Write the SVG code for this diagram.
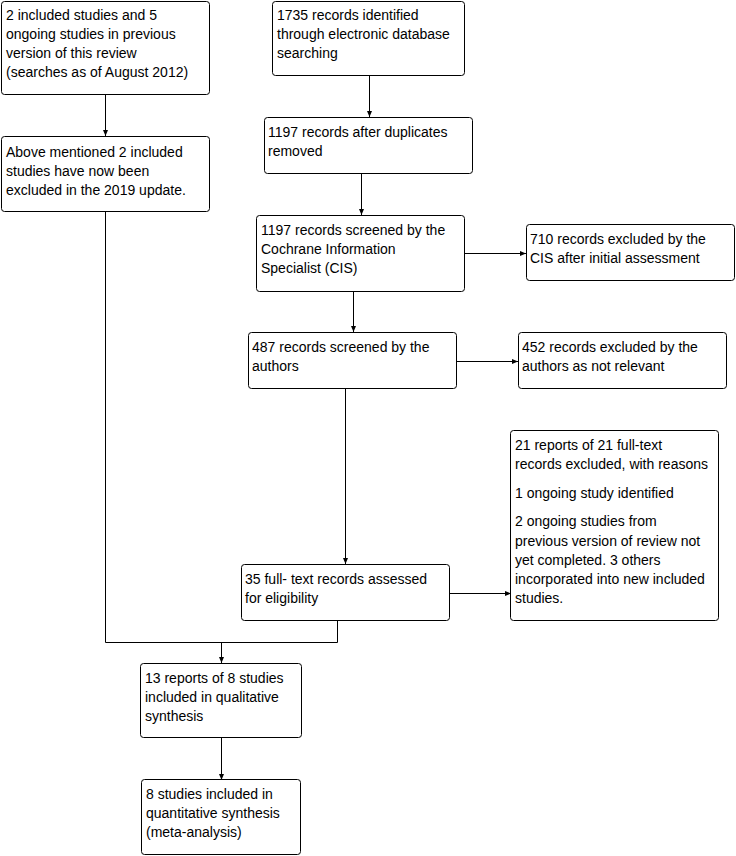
<svg xmlns="http://www.w3.org/2000/svg" width="736" height="856" viewBox="0 0 736 856">
<style>
.box{fill:#fff;stroke:#000;stroke-width:1}
text{font-family:"Liberation Sans",Arial,sans-serif;font-size:14px;fill:#000}
.ln{fill:none;stroke:#000;stroke-width:1}
</style>
<defs>
<marker id="ah" markerWidth="6" markerHeight="6" refX="6" refY="3" orient="auto" markerUnits="userSpaceOnUse">
<path d="M0,0.5 L6,3 L0,5.5 Z" fill="#000"/>
</marker>
</defs>
<rect width="736" height="856" fill="#fff"/>
<g id="connectors">
<line class="ln" x1="105.5" y1="95" x2="105.5" y2="136" marker-end="url(#ah)"/>
<line class="ln" x1="369.5" y1="76" x2="369.5" y2="117" marker-end="url(#ah)"/>
<line class="ln" x1="361.5" y1="174" x2="361.5" y2="215" marker-end="url(#ah)"/>
<line class="ln" x1="465" y1="253.5" x2="526" y2="253.5" marker-end="url(#ah)"/>
<line class="ln" x1="353.5" y1="292" x2="353.5" y2="332" marker-end="url(#ah)"/>
<line class="ln" x1="457" y1="361.5" x2="518" y2="361.5" marker-end="url(#ah)"/>
<line class="ln" x1="345.5" y1="389" x2="345.5" y2="564" marker-end="url(#ah)"/>
<line class="ln" x1="449" y1="593.5" x2="511" y2="593.5" marker-end="url(#ah)"/>
<polyline class="ln" points="105.5,212 105.5,642.5 337.5,642.5 337.5,621"/>
<line class="ln" x1="221.5" y1="642.5" x2="221.5" y2="663" marker-end="url(#ah)"/>
<line class="ln" x1="221.5" y1="738" x2="221.5" y2="780" marker-end="url(#ah)"/>
</g>
<g id="n1">
<rect class="box" x="1.5" y="1.5" width="208" height="93" rx="3"/>
<text x="6" y="20">2 included studies and 5</text>
<text x="6" y="39">ongoing studies in previous</text>
<text x="6" y="58">version of this review</text>
<text x="6" y="77">(searches as of August 2012)</text>
</g>
<g id="n2">
<rect class="box" x="1.5" y="136.5" width="208" height="75" rx="3"/>
<text x="6" y="157">Above mentioned 2 included</text>
<text x="6" y="176">studies have now been</text>
<text x="6" y="195">excluded in the 2019 update.</text>
</g>
<g id="n3">
<rect class="box" x="272.5" y="1.5" width="192" height="74" rx="3"/>
<text x="277" y="20">1735 records identified</text>
<text x="277" y="39">through electronic database</text>
<text x="277" y="58">searching</text>
</g>
<g id="n4">
<rect class="box" x="264.5" y="117.5" width="208" height="56" rx="3"/>
<text x="268" y="137">1197 records after duplicates</text>
<text x="268" y="156">removed</text>
</g>
<g id="n5">
<rect class="box" x="256.5" y="215.5" width="208" height="76" rx="3"/>
<text x="261" y="235">1197 records screened by the</text>
<text x="261" y="254">Cochrane Information</text>
<text x="261" y="273">Specialist (CIS)</text>
</g>
<g id="n6">
<rect class="box" x="526.5" y="224.5" width="208" height="56" rx="3"/>
<text x="530" y="244">710 records excluded by the</text>
<text x="530" y="263">CIS after initial assessment</text>
</g>
<g id="n7">
<rect class="box" x="248.5" y="332.5" width="208" height="56" rx="3"/>
<text x="252" y="352">487 records screened by the</text>
<text x="252" y="371">authors</text>
</g>
<g id="n8">
<rect class="box" x="518.5" y="332.5" width="208" height="56" rx="3"/>
<text x="522" y="352">452 records excluded by the</text>
<text x="522" y="371">authors as not relevant</text>
</g>
<g id="n9">
<rect class="box" x="241.5" y="564.5" width="208" height="56" rx="3"/>
<text x="245" y="584">35 full- text records assessed</text>
<text x="245" y="603">for eligibility</text>
</g>
<g id="n10">
<rect class="box" x="510.5" y="430.5" width="208" height="190" rx="3"/>
<text x="515" y="450">21 reports of 21 full-text</text>
<text x="515" y="469">records excluded, with reasons</text>
<text x="515" y="498">1 ongoing study identified</text>
<text x="515" y="526">2 ongoing studies from</text>
<text x="515" y="546">previous version of review not</text>
<text x="515" y="565">yet completed. 3 others</text>
<text x="515" y="584">incorporated into new included</text>
<text x="515" y="603">studies.</text>
</g>
<g id="n11">
<rect class="box" x="140.5" y="663.5" width="161" height="74" rx="3"/>
<text x="145" y="683">13 reports of 8 studies</text>
<text x="145" y="702">included in qualitative</text>
<text x="145" y="721">synthesis</text>
</g>
<g id="n12">
<rect class="box" x="141.5" y="779.5" width="159" height="75" rx="3"/>
<text x="146" y="799">8 studies included in</text>
<text x="146" y="818">quantitative synthesis</text>
<text x="146" y="837">(meta-analysis)</text>
</g>
</svg>
